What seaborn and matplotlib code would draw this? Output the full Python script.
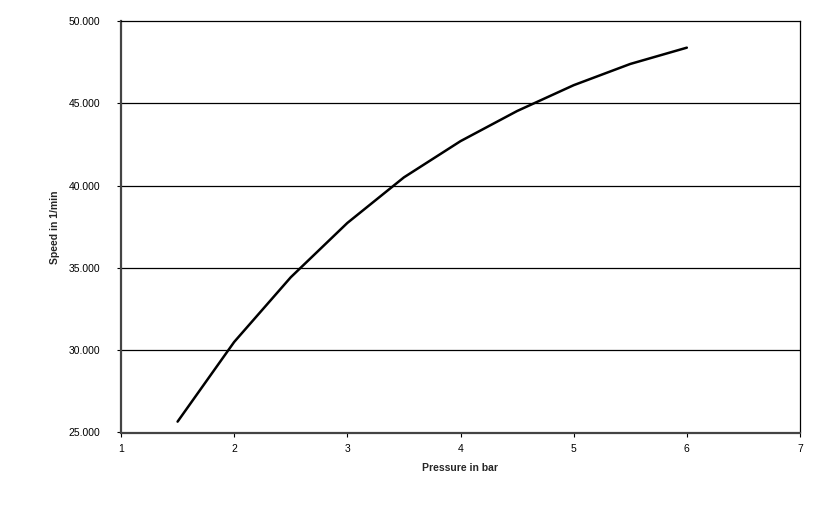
import matplotlib
matplotlib.use("Agg")
import matplotlib.pyplot as plt
import seaborn as sns
import pandas as pd
from matplotlib.ticker import FuncFormatter

# data
pressure = [1.5, 2.0, 2.5, 3.0, 3.5, 4.0, 4.5, 5.0, 5.5, 6.0]
speed = [25660, 30500, 34430, 37730, 40500, 42700, 44530, 46100, 47390, 48380]

x_ticks = [1, 2, 3, 4, 5, 6, 7]
y_ticks = [25000, 30000, 35000, 40000, 45000, 50000]

df = pd.DataFrame({"pressure": pressure, "speed": speed})

sns.set_style("white")
plt.rcParams["font.family"] = ["Liberation Sans", "DejaVu Sans"]

fig = plt.figure(figsize=(8.25, 5.09), dpi=100)
ax = fig.add_axes([121 / 825, 1 - 432.5 / 509, (800 - 121) / 825, (432.5 - 21) / 509])

for yv in y_ticks[1:-1]:
    ax.axhline(yv, color="black", lw=0.9, zorder=1)

sns.lineplot(data=df, x="pressure", y="speed", color="black", lw=1.8, ax=ax, zorder=3)

ax.set_xlim(1, 7)
ax.set_ylim(25000, 50000)
ax.set_xticks(x_ticks)
ax.set_yticks(y_ticks)
ax.yaxis.set_major_formatter(FuncFormatter(lambda v, p: f"{int(v):,}".replace(",", ".")))

ax.tick_params(axis="both", direction="out", length=3, width=0.8, labelsize=7.5, colors="black")
ax.tick_params(axis="x", pad=5)
ax.tick_params(axis="y", pad=12)
ax.tick_params(bottom=True, left=True)

for side in ["left", "bottom"]:
    ax.spines[side].set_color("#444444")
    ax.spines[side].set_linewidth(1.6)
for side in ["top", "right"]:
    ax.spines[side].set_color("black")
    ax.spines[side].set_linewidth(0.9)

ax.set_xlabel("Pressure in bar", fontsize=7.5, fontweight="bold", labelpad=7)
ax.set_ylabel("Speed in 1/min", fontsize=7.5, fontweight="bold", labelpad=6)

fig.savefig("out.png", dpi=100, facecolor="white")
